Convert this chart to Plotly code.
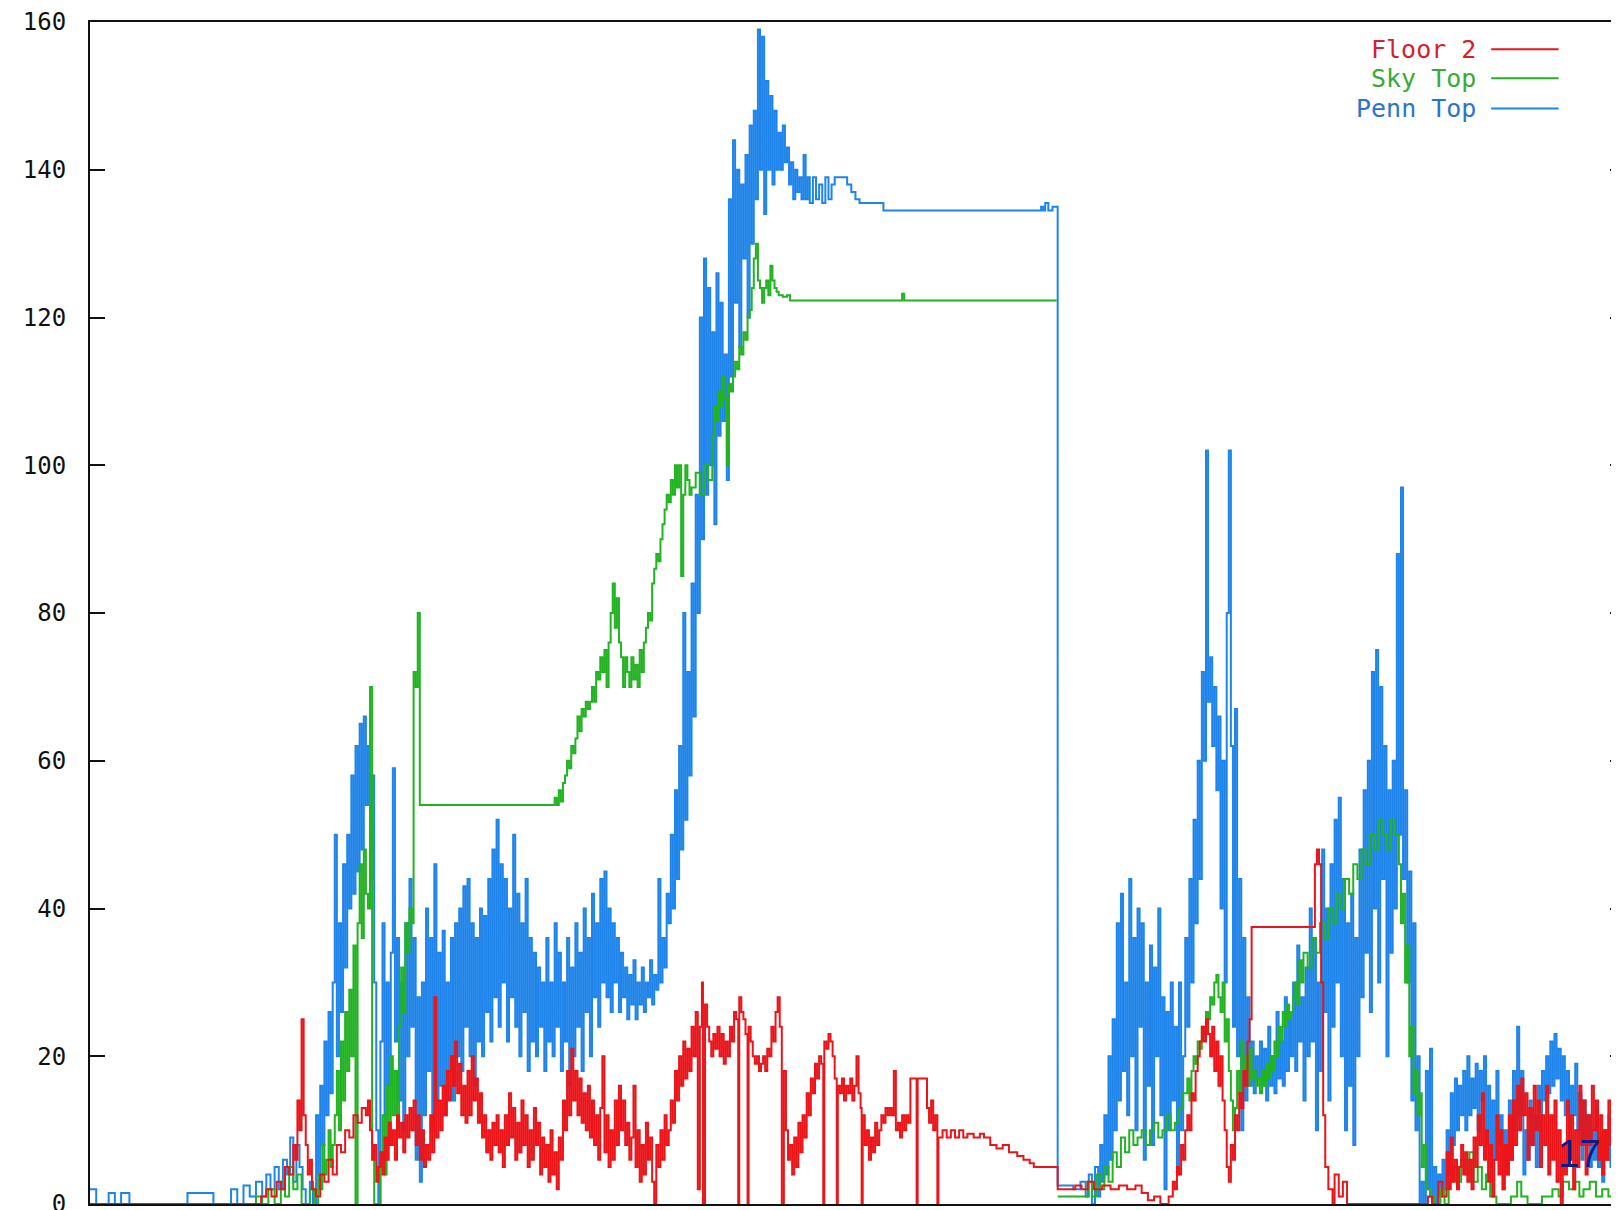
import plotly.graph_objects as go

# ---- data: (sample index, value) pairs ----
y_ticks = [0, 20, 40, 60, 80, 100, 120, 140, 160]
series_names = ["Floor 2", "Sky Top", "Penn Top"]

penn_top = [(0,2),(6,0),(18,1.5),(24,0),(30,1.5),(38,0),(94,1.5),(119,0),(136,2),(142,0),(148,2.5),(154,1),(160,3),(166,1),(170,4),(174,2),(178,5),(182,2),(186,6),(190,4),(193,9),(196,3),(199,8),(202,5),(205,2),(208,0),(212,3),(215,0),(218,12),(220,4),(222,16),(224,8),(226,22),(228,12),(230,26),(232,15),(234,30),(236,50),(238,20),(240,38),(242,26),(244,46),(246,32),(248,50),(250,40),(252,58),(254,42),(256,62),(258,45),(260,65),(262,48),(264,66),(266,54),(268,62),(270,44),(272,58),(274,30),(276,10),(278,0),(280,22),(282,38),(284,12),(286,30),(288,16),(290,34),(292,59),(294,22),(296,36),(298,14),(300,30),(302,10),(304,38),(306,20),(308,44),(310,24),(312,36),(314,6),(316,28),(318,3),(320,30),(322,12),(324,40),(326,18),(328,36),(330,10),(332,46),(334,14),(336,34),(338,16),(340,37),(342,12),(344,30),(346,18),(348,36),(350,14),(352,38),(354,20),(356,40),(358,18),(360,43),(362,24),(364,44),(366,20),(368,38),(370,16),(372,36),(374,22),(376,40),(378,20),(380,39),(382,26),(384,44),(386,22),(388,48),(390,28),(392,52),(394,24),(396,46),(398,30),(400,44),(402,22),(404,40),(406,28),(408,50),(410,24),(412,42),(414,20),(416,38),(418,26),(420,44),(422,18),(424,36),(426,22),(428,34),(430,20),(432,32),(434,24),(436,30),(438,18),(440,36),(442,22),(444,30),(446,20),(448,38),(450,24),(452,34),(454,18),(456,30),(458,22),(460,36),(462,16),(464,32),(466,20),(468,38),(470,24),(472,34),(474,18),(476,40),(478,26),(480,36),(482,20),(484,42),(486,28),(488,38),(490,24),(492,44),(494,30),(496,45),(498,28),(500,40),(502,26),(504,38),(506,30),(508,36),(510,26),(512,34),(514,28),(516,32),(518,25),(520,31),(522,27),(524,33),(526,25),(528,30),(530,27),(532,32),(534,26),(536,30),(538,28),(540,33),(542,27),(544,31),(546,29),(548,44),(550,30),(552,36),(554,32),(556,42),(558,38),(560,50),(562,40),(564,56),(566,44),(568,62),(570,48),(572,80),(574,52),(576,72),(578,58),(580,84),(582,66),(584,96),(586,80),(588,120),(590,90),(592,128),(594,96),(596,124),(598,100),(600,118),(602,92),(604,126),(606,104),(608,122),(610,106),(612,115),(614,98),(616,136),(618,112),(620,144),(622,122),(624,140),(626,116),(628,138),(630,128),(632,142),(634,120),(636,146),(638,130),(640,148),(642,136),(644,159),(646,140),(648,158),(650,134),(652,152),(654,140),(656,150),(658,138),(660,148),(662,140),(664,145),(666,140),(668,146),(670,141),(672,143),(674,138),(676,141),(678,136),(680,140),(682,137),(684,139),(686,136),(688,142),(690,136),(692,139),(694,135.5),(697,139),(700,136),(703,138),(706,135.5),(709,139),(712,136),(715,138),(718,139),(730,138),(734,137),(738,136),(742,135.5),(765,134.5),(917,135),(919,134.5),(921,135.5),(924,134.5),(928,135),(932,135),(933,2.5),(945,2.5),(948,2),(955,3),(960,1),(963,4),(966,0),(969,5),(972,1),(974,8),(976,3),(978,12),(980,4),(982,20),(984,6),(986,25),(988,10),(990,38),(992,14),(994,42),(996,18),(998,30),(1000,12),(1002,44),(1004,20),(1006,36),(1008,10),(1010,40),(1012,24),(1014,38),(1016,6),(1018,30),(1020,16),(1022,35),(1024,8),(1026,32),(1028,20),(1030,40),(1032,12),(1034,28),(1036,2),(1038,26),(1040,10),(1042,30),(1044,14),(1046,24),(1048,4),(1050,30),(1052,10),(1054,20),(1056,36),(1058,24),(1060,44),(1062,30),(1064,52),(1066,38),(1068,60),(1070,44),(1072,72),(1074,60),(1076,102),(1078,68),(1080,74),(1082,62),(1084,70),(1086,56),(1088,66),(1090,40),(1092,60),(1094,30),(1096,80),(1098,102),(1100,62),(1102,24),(1104,67),(1106,20),(1108,44),(1110,10),(1112,36),(1114,14),(1116,28),(1118,16),(1120,22),(1122,15),(1124,20),(1126,17),(1128,22),(1130,16),(1132,21),(1134,14),(1136,24),(1138,16),(1140,20),(1142,15),(1144,26),(1146,17),(1148,22),(1150,16),(1152,28),(1154,18),(1156,25),(1158,20),(1160,30),(1162,18),(1164,35),(1166,22),(1168,28),(1170,14),(1172,32),(1174,20),(1176,40),(1178,22),(1180,36),(1182,10),(1184,30),(1186,18),(1188,48),(1190,26),(1192,40),(1194,14),(1196,46),(1198,24),(1200,52),(1202,30),(1204,55),(1206,20),(1208,44),(1210,10),(1212,38),(1214,16),(1216,42),(1218,8),(1220,36),(1222,20),(1224,48),(1226,28),(1228,56),(1230,34),(1232,60),(1234,26),(1236,72),(1238,40),(1240,75),(1242,30),(1244,70),(1246,44),(1248,62),(1250,20),(1252,56),(1254,34),(1256,60),(1258,40),(1260,88),(1262,50),(1264,97),(1266,44),(1268,56),(1270,30),(1272,45),(1274,14),(1276,38),(1278,10),(1280,20),(1282,0),(1284,3),(1286,0),(1288,18),(1290,2),(1292,21),(1294,0),(1296,5),(1298,0),(1300,4),(1302,1),(1304,6),(1306,2),(1308,10),(1310,4),(1312,15),(1314,8),(1316,17),(1318,10),(1320,16),(1322,12),(1324,18),(1326,10),(1328,20),(1330,12),(1332,17),(1334,13),(1336,19),(1338,10),(1340,18),(1342,14),(1344,20),(1346,8),(1348,16),(1350,5),(1352,14),(1354,6),(1356,18),(1358,8),(1360,12),(1362,2),(1364,10),(1366,4),(1368,14),(1370,6),(1372,18),(1374,10),(1376,24),(1378,12),(1380,18),(1382,4),(1384,10),(1386,6),(1388,14),(1390,8),(1392,12),(1394,5),(1396,16),(1398,10),(1400,18),(1402,14),(1404,20),(1406,15),(1408,22),(1410,16),(1412,23),(1414,17),(1416,21),(1418,14),(1420,20),(1422,12),(1424,18),(1426,10),(1428,16),(1430,12),(1432,19),(1434,10),(1436,15),(1438,6),(1440,14),(1442,8),(1444,12),(1446,5),(1448,10),(1450,6),(1452,13),(1454,5),(1456,9),(1458,3),(1460,10),(1462,6),(1464,12),(1466,5),(1468,9),(1470,6),(1472,11),(1474,7),(1476,10),(1478,8),(1480,9)]

sky_top_before = [(0,0),(160,1),(166,0),(172,2),(178,0),(184,3),(188,1),(192,5),(196,2),(200,4),(204,0),(212,2),(216,0),(220,4),(222,2),(224,8),(226,4),(228,6),(230,10),(232,5),(234,8),(236,12),(238,18),(240,10),(242,22),(244,14),(246,26),(248,18),(250,29),(252,20),(254,35),(256,0),(258,38),(260,46),(262,36),(264,48),(266,42),(268,40),(270,70),(272,8),(274,0),(278,0),(280,6),(282,12),(284,4),(286,16),(288,8),(290,20),(292,12),(294,18),(296,10),(298,24),(300,32),(302,26),(304,38),(306,34),(308,40),(310,38),(312,72),(314,70),(316,80),(318,54),(446,54),(448,55),(450,54),(452,56),(454,54.5),(456,57),(458,58),(460,60),(462,59),(464,62),(466,61),(468,63),(470,66),(472,64),(474,67),(476,66),(478,68),(480,67),(482,68),(484,70),(486,68),(488,72),(490,71),(492,74),(494,72),(496,75),(498,70),(500,76),(502,80),(504,84),(506,78),(508,82),(510,76),(512,74),(514,70),(516,74),(518,72),(520,70),(522,74),(524,71),(526,73),(528,70),(530,75),(532,72),(534,76),(536,78),(538,80),(540,79),(542,84),(544,86),(546,88),(548,87),(550,90),(552,92),(554,94),(556,96),(558,95),(560,98),(562,96),(564,100),(566,97),(568,100),(570,85),(572,96),(574,100),(576,98),(578,96),(580,97),(584,99),(588,96),(592,100),(596,98),(600,104),(602,108),(604,106),(606,110),(608,108),(610,112),(612,109),(614,100),(616,111),(618,110),(620,112),(622,114),(624,113),(626,116),(628,115),(630,118),(632,117),(634,120),(636,121),(638,124),(640,128),(642,130),(644,125),(646,124),(648,122),(650,124),(652,125),(654,123),(656,127),(658,125),(660,124),(662,123.5),(664,123),(668,122.8),(672,123),(675,122.3),(783,123.2),(785,122.3),(932,122.3)]

sky_top_after = [(933,1),(960,1),(962,3),(966,1),(970,4),(974,2),(978,5),(982,3),(986,7),(990,5),(994,9),(998,7),(1002,10),(1006,8),(1010,9),(1014,10),(1018,8),(1022,10),(1026,11),(1030,9),(1034,10),(1038,12),(1042,10),(1046,11),(1050,13),(1054,15),(1058,17),(1060,14),(1062,18),(1064,20),(1066,19),(1068,22),(1070,21),(1072,24),(1074,23),(1076,26),(1078,25),(1080,28),(1082,27),(1084,30),(1086,31),(1088,28),(1090,26),(1092,30),(1094,22),(1096,25),(1098,18),(1100,14),(1102,10),(1104,13),(1106,18),(1108,15),(1110,22),(1112,18),(1114,20),(1116,16),(1118,21),(1120,17),(1122,18),(1124,16),(1126,17),(1128,15),(1130,18),(1132,16),(1134,19),(1136,17),(1138,20),(1140,18),(1142,22),(1144,20),(1146,24),(1148,22),(1150,26),(1152,24),(1154,27),(1156,25),(1158,26),(1160,28),(1162,30),(1164,27),(1166,33),(1168,30),(1170,34),(1174,32),(1178,36),(1182,34),(1186,38),(1190,36),(1194,40),(1198,38),(1202,42),(1206,40),(1210,44),(1214,42),(1218,46),(1222,44),(1226,48),(1230,46),(1234,50),(1238,48),(1242,52),(1246,50),(1250,48),(1254,52),(1258,50),(1262,46),(1264,38),(1266,42),(1268,30),(1270,35),(1272,20),(1274,24),(1276,15),(1278,18),(1280,12),(1282,15),(1284,5),(1286,8),(1288,2),(1292,1),(1296,0),(1302,2),(1306,0),(1310,3),(1314,5),(1318,3),(1322,6),(1326,4),(1330,7),(1334,3),(1338,5),(1342,2),(1346,4),(1350,1),(1356,0),(1370,1),(1376,3),(1380,1),(1386,0),(1400,1),(1410,2),(1416,1),(1420,3),(1426,2),(1432,3),(1436,1),(1440,2),(1446,3),(1452,1),(1458,2),(1464,1),(1470,3),(1476,2),(1480,2)]

floor_2 = [(0,0),(165,1),(170,2),(175,1),(180,3),(184,2),(188,5),(192,4),(196,8),(198,6),(200,14),(202,10),(204,25),(206,12),(208,8),(210,4),(212,6),(214,2),(218,1),(222,4),(226,3),(230,6),(234,4),(238,8),(242,7),(246,10),(250,9),(254,12),(258,11),(262,13),(266,12),(268,14),(270,10),(272,6),(274,8),(276,3),(278,5),(280,7),(282,4),(284,9),(286,6),(288,11),(290,8),(292,10),(294,6),(296,12),(298,9),(300,11),(302,7),(304,12),(306,9),(308,13),(310,10),(312,14),(314,8),(316,12),(318,6),(320,10),(322,5),(324,8),(326,6),(328,12),(330,7),(332,28),(334,9),(336,14),(338,10),(340,16),(342,12),(344,18),(346,14),(348,20),(350,16),(352,22),(354,15),(356,19),(358,12),(360,16),(362,11),(364,18),(366,12),(368,20),(370,14),(372,17),(374,11),(376,15),(378,9),(380,12),(382,7),(384,10),(386,6),(388,11),(390,8),(392,12),(394,7),(396,10),(398,5),(400,12),(402,8),(404,15),(406,9),(408,13),(410,6),(412,11),(414,7),(416,14),(418,8),(420,12),(422,5),(424,10),(426,6),(428,13),(430,8),(432,11),(434,4),(436,9),(438,5),(440,8),(442,3),(444,10),(446,4),(448,7),(450,2),(452,9),(454,6),(456,14),(458,10),(460,18),(462,12),(464,21),(466,14),(468,18),(470,12),(472,17),(474,11),(476,15),(478,10),(480,16),(482,9),(484,14),(486,8),(488,12),(490,6),(492,13),(494,20),(496,7),(498,12),(500,5),(502,10),(504,6),(506,14),(508,8),(510,16),(512,10),(514,14),(516,8),(518,11),(520,6),(522,9),(524,16),(526,5),(528,10),(530,3),(532,8),(534,4),(536,11),(538,6),(540,9),(542,3),(544,0),(546,8),(548,5),(550,10),(552,6),(554,12),(556,8),(558,10),(560,14),(562,11),(564,18),(566,14),(568,20),(570,16),(572,22),(574,17),(576,21),(578,18),(580,24),(582,20),(584,26),(586,2),(588,24),(590,30),(591,0),(593,27),(595,24),(597,22),(599,20),(601,23),(603,21),(605,24),(607,20),(609,23),(611,19),(613,22),(615,20),(617,24),(619,22),(621,26),(623,25),(625,0),(626,28),(628,26),(630,25),(632,23),(634,0),(635,24),(637,22),(639,20),(641,19),(643,20),(645,18),(647,19),(649,20),(651,18),(653,21),(655,20),(657,24),(659,22),(661,26),(663,28),(665,24),(667,0),(669,18),(671,10),(673,6),(675,8),(677,4),(679,9),(681,5),(683,11),(685,7),(687,12),(689,9),(691,15),(693,12),(695,17),(697,15),(699,19),(701,17),(703,20),(705,19),(707,0),(708,22),(710,21),(712,23),(714,22),(716,20),(718,17),(720,0),(721,16),(723,15),(725,17),(727,14),(729,16),(731,15),(733,17),(735,14),(737,16),(739,20),(741,15),(743,13),(744,0),(745,12),(747,8),(749,10),(751,6),(753,9),(755,7),(757,11),(759,8),(761,10),(763,12),(765,11),(767,13),(769,12),(771,13),(773,12),(775,18),(777,10),(779,11),(781,9),(783,12),(785,10),(787,12),(789,11),(791,17),(797,0),(798,17),(807,13),(809,11),(811,14),(813,10),(815,12),(817,0),(818,9),(822,10),(826,9),(830,10),(834,9),(838,10),(842,9),(846,9.5),(852,9),(858,9.5),(862,9),(868,8),(874,7.5),(880,8),(886,7),(894,6.5),(900,6),(906,5.5),(910,5),(932,5),(933,2),(950,2.5),(956,2),(962,3),(968,2),(976,2.5),(984,2),(992,2.5),(1000,2),(1008,2.5),(1014,1.5),(1020,0.5),(1026,1),(1032,0),(1040,1),(1044,3),(1046,2),(1048,5),(1050,4),(1052,8),(1054,6),(1056,10),(1058,12),(1060,10),(1062,15),(1064,14),(1066,18),(1068,20),(1070,22),(1072,24),(1074,22),(1076,25),(1078,23),(1080,20),(1082,24),(1084,18),(1086,22),(1088,16),(1090,20),(1092,14),(1094,10),(1096,5),(1098,3),(1100,8),(1102,6),(1104,12),(1106,10),(1108,15),(1110,13),(1112,18),(1114,16),(1116,22),(1118,25),(1120,37.5),(1179,37.5),(1181,46),(1183,48),(1185,46),(1187,30),(1189,12),(1191,5),(1194,2),(1198,0),(1200,4),(1204,1),(1208,3),(1212,0),(1290,1),(1294,0),(1300,3),(1304,1),(1308,7),(1310,2),(1312,9),(1314,3),(1316,6),(1318,2),(1320,5),(1322,8),(1324,4),(1326,7),(1328,3),(1330,6),(1332,2),(1334,9),(1336,5),(1338,12),(1340,8),(1342,15),(1344,6),(1346,10),(1348,3),(1350,8),(1352,1),(1354,6),(1356,12),(1358,4),(1360,10),(1362,2),(1364,8),(1366,4),(1368,12),(1370,6),(1372,14),(1374,8),(1376,16),(1378,10),(1380,17),(1382,12),(1384,15),(1386,6),(1388,13),(1390,8),(1392,16),(1394,10),(1396,14),(1398,5),(1400,12),(1402,8),(1404,16),(1406,4),(1408,12),(1410,6),(1412,14),(1414,3),(1416,10),(1418,0),(1420,8),(1422,4),(1424,14),(1426,6),(1428,12),(1430,2),(1432,10),(1434,5),(1436,16),(1438,8),(1440,14),(1442,4),(1444,12),(1446,8),(1448,16),(1450,10),(1452,14),(1454,6),(1456,12),(1458,4),(1460,10),(1462,6),(1464,14),(1466,8),(1468,12),(1470,5),(1472,16),(1474,9),(1476,17),(1478,12),(1480,13)]

colors = {"Floor 2": "#ea1419", "Sky Top": "#22b322", "Penn Top": "#1f84ea"}
text_colors = {"Floor 2": "#d42030", "Sky Top": "#38aa38", "Penn Top": "#2a74d0"}


def unzip(pairs):
    return [p[0] for p in pairs], [p[1] for p in pairs]


fig = go.Figure()

px_, py_ = unzip(penn_top)
fig.add_trace(go.Scatter(x=px_, y=py_, mode="lines", line_shape="hv",
                         line=dict(color=colors["Penn Top"], width=2), name="Penn Top",
                         showlegend=False, hoverinfo="skip"))

sx1, sy1 = unzip(sky_top_before)
sx2, sy2 = unzip(sky_top_after)
fig.add_trace(go.Scatter(x=sx1 + [None] + sx2, y=sy1 + [None] + sy2, mode="lines",
                         line_shape="hv", connectgaps=False,
                         line=dict(color=colors["Sky Top"], width=2), name="Sky Top",
                         showlegend=False, hoverinfo="skip"))

fx, fy = unzip(floor_2)
fig.add_trace(go.Scatter(x=fx, y=fy, mode="lines", line_shape="hv",
                         line=dict(color=colors["Floor 2"], width=2), name="Floor 2",
                         showlegend=False, hoverinfo="skip"))

# gnuplot-style key: text then line sample, top right
key_rows = [156.3, 152.4, 148.3]
for name, yy in zip(series_names, key_rows):
    fig.add_annotation(x=1338, y=yy, xref="x", yref="y", text=name, showarrow=False,
                       xanchor="right", yanchor="middle",
                       font=dict(family="DejaVu Sans Mono", size=25, color=text_colors[name]))
    fig.add_shape(type="line", xref="x", yref="y", x0=1351, x1=1416, y0=yy, y1=yy,
                  line=dict(color=colors[name], width=2))

# slide page number overlay
fig.add_annotation(x=1436, y=6.8, xref="x", yref="y", text="17", showarrow=False,
                   xanchor="center", yanchor="middle",
                   font=dict(family="Liberation Sans", size=38, color="#0c1a8c"))

fig.update_layout(
    width=1619, height=1210, autosize=False,
    margin=dict(l=82, r=0, t=6, b=14),
    paper_bgcolor="white", plot_bgcolor="white",
    showlegend=False,
    xaxis=dict(range=[0, 1480], showgrid=False, zeroline=False, showticklabels=False,
               ticks="", showline=True, linecolor="#111", linewidth=2, mirror=True),
    yaxis=dict(range=[0, 160], showgrid=False, zeroline=False,
               tickmode="array", tickvals=y_ticks, ticktext=[str(v) for v in y_ticks],
               ticks="inside", ticklen=15, tickwidth=2, tickcolor="#111",
               showline=True, linecolor="#111", linewidth=2, mirror="ticks",
               ticklabelstandoff=17, ticklabeloverflow="allow",
               tickfont=dict(family="DejaVu Sans Mono", size=24, color="#111")),
)

fig.write_html("out.html")
